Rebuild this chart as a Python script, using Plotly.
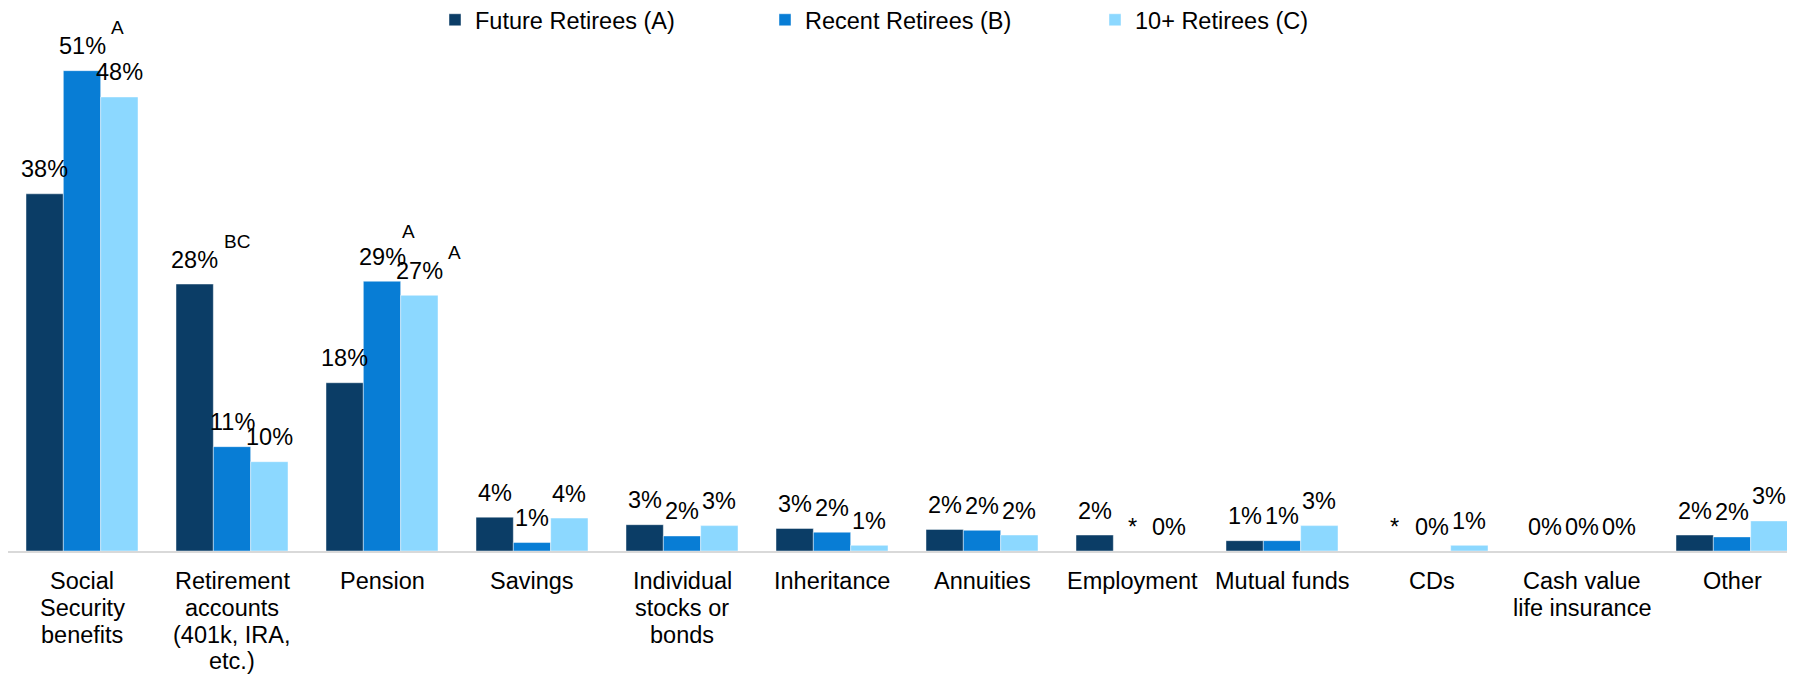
import plotly.graph_objects as go

# ---------------- data ----------------
categories = [
    "Social Security benefits",
    "Retirement accounts (401k, IRA, etc.)",
    "Pension",
    "Savings",
    "Individual stocks or bonds",
    "Inheritance",
    "Annuities",
    "Employment",
    "Mutual funds",
    "CDs",
    "Cash value life insurance",
    "Other",
]
tick_labels = [
    "Social<br>Security<br>benefits",
    "Retirement<br>accounts<br>(401k, IRA,<br>etc.)",
    "Pension",
    "Savings",
    "Individual<br>stocks or<br>bonds",
    "Inheritance",
    "Annuities",
    "Employment",
    "Mutual funds",
    "CDs",
    "Cash value<br>life insurance",
    "Other",
]
series_names = ["Future Retirees (A)", "Recent Retirees (B)", "10+ Retirees (C)"]

future_retirees = [38.0, 28.4, 17.9, 3.6, 2.8, 2.4, 2.3, 1.7, 1.1, 0.0, 0.0, 1.7]
recent_retirees = [51.1, 11.1, 28.7, 0.9, 1.6, 2.0, 2.2, 0.0, 1.1, 0.0, 0.0, 1.5]
ten_plus_retirees = [48.3, 9.5, 27.2, 3.5, 2.7, 0.6, 1.7, 0.0, 2.7, 0.6, 0.0, 3.2]

future_labels = ["38%", "28%", "18%", "4%", "3%", "3%", "2%", "2%", "1%", "*", "0%", "2%"]
recent_labels = ["51%", "11%", "29%", "1%", "2%", "2%", "2%", "*", "1%", "0%", "0%", "2%"]
ten_plus_labels = ["48%", "10%", "27%", "4%", "3%", "1%", "2%", "0%", "3%", "1%", "0%", "3%"]

# significance letters: (category, series index, letters)
sig_categories = ["Social Security benefits", "Retirement accounts (401k, IRA, etc.)", "Pension", "Pension"]
sig_series = [1, 0, 1, 2]
sig_letters = ["A", "BC", "A", "A"]

# ---------------- style ----------------
colors = ["#0B3D66", "#087DD5", "#8CD8FF"]
FONT = "Liberation Sans, Arial, sans-serif"
# page body has an 8px margin, so the figure is 8px smaller than the window
W, H = 1787, 666
ML, MR, MT, MB = 0, 0, 0, 123
plot_w = W - ML - MR
plot_h = H - MT - MB
cat_px = 150.0
px_per_pct = 9.4
x0 = -74.0 / cat_px
x_range = [x0, x0 + plot_w / cat_px]
y_range = [0, plot_h / px_per_pct]
bargap = 1 - 112.0 / cat_px
bar_px = (1 - bargap) * cat_px / 3
sig_nudge = {("Pension", 1): (-9, 7)}

values = [future_retirees, recent_retirees, ten_plus_retirees]
labels = [future_labels, recent_labels, ten_plus_labels]

fig = go.Figure()
for i in range(3):
    fig.add_trace(go.Bar(
        x=categories, y=values[i], name=series_names[i],
        marker=dict(color=colors[i], line=dict(color="rgba(255,255,255,0.45)", width=1)),
        hoverinfo="x+y+name",
    ))

annotations = []
for i in range(3):
    for c, v, t in zip(categories, values[i], labels[i]):
        annotations.append(dict(
            x=c, y=v, xref="x", yref="y", text=t, showarrow=False,
            xshift=(i - 1) * bar_px, yshift=24.5, yanchor="middle", xanchor="center",
            font=dict(family=FONT, size=23.5, color="#000000"),
        ))

for c, s, t in zip(sig_categories, sig_series, sig_letters):
    v = values[s][categories.index(c)]
    dx, dy = sig_nudge.get((c, s), (0, 0))
    annotations.append(dict(
        x=c, y=v, xref="x", yref="y", text=t, showarrow=False,
        xshift=(s - 1) * bar_px + 27 + dx, yshift=43 + dy, yanchor="middle", xanchor="left",
        font=dict(family=FONT, size=19, color="#000000"),
    ))

# category labels, one annotation per line for tight line spacing
for c, tl in zip(categories, tick_labels):
    for k, line in enumerate(tl.split("<br>")):
        annotations.append(dict(
            x=c, y=0, xref="x", yref="y", text=line, showarrow=False,
            yshift=-(30.3 + 26.7 * k), yanchor="middle", xanchor="center",
            font=dict(family=FONT, size=23.5, color="#000000"),
        ))

fig.update_layout(
    width=W, height=H,
    margin=dict(l=ML, r=MR, t=MT, b=MB, pad=0, autoexpand=False),
    paper_bgcolor="white", plot_bgcolor="white",
    barmode="group", bargap=bargap, bargroupgap=0,
    font=dict(family=FONT, size=23.5, color="#000000"),
    showlegend=True,
    legend=dict(
        orientation="h", x=427.0 / plot_w, xanchor="left",
        y=1 - 12.0 / plot_h, yanchor="middle",
        font=dict(family=FONT, size=23.5, color="#000000"),
        entrywidth=285, entrywidthmode="pixels",
        bgcolor="rgba(0,0,0,0)", borderwidth=0, traceorder="normal",
    ),
    xaxis=dict(
        type="category", range=x_range, showticklabels=False, ticks="",
        showline=True, linecolor="#D9D9D9", linewidth=2, showgrid=False, zeroline=False,
        fixedrange=True,
    ),
    yaxis=dict(range=y_range, visible=False, showgrid=False, zeroline=False, fixedrange=True),
    annotations=annotations,
)

fig.write_html("out.html")
